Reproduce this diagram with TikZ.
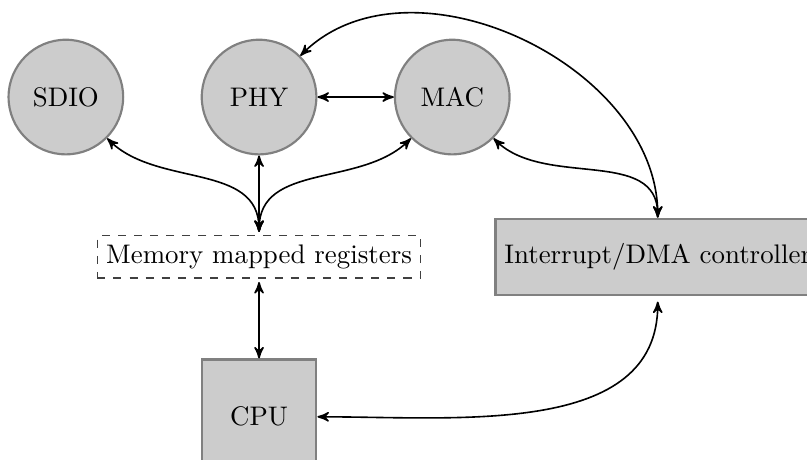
\documentclass[tikz,border=0pt]{standalone}
\usepackage{tikz}
\usetikzlibrary{arrows,shapes,positioning,fit}

\begin{document}
\begin{tikzpicture}[>=stealth', semithick,
block/.style = {align=center, text centered, draw=gray, thick, fill=gray!40},
unit/.style = {block, circle, minimum size=1.5cm},
ctrl/.style = {block, rectangle, minimum height=1cm},
regs/.style = {rectangle, draw=darkgray, thin, dashed, outer sep=1.5pt}]
\useasboundingbox (-3.39,-4.74) rectangle (7.17,1.27);

\node [unit] (phy) {PHY};
\node [unit, left=1cm of phy] (sdio) {SDIO};
\node [unit, right=1cm of phy] (mac) {MAC};
\node [regs, below=1cm of phy] (mem) {Memory mapped registers};
\node [ctrl, right=0.91cm of mem] (irq) {Interrupt/DMA controller};
\node [ctrl, minimum width=1.5cm, minimum height=1.5cm, below=1cm of mem] (cpu) {CPU};

\path [<->] (phy) edge (mac);
\path [<->] (mem) edge (phy);
\path [<->] (mem.north) edge [out=90, in=-45] (sdio.south east);
\path [<->] (mem.north) edge [out=90, in=225] (mac.south west);
\path [<->] (irq.north) edge [out=90, in=45] (phy.north east);
\path [<->] (irq.north) edge [out=90, in=-45] (mac.south east);
\path [<->] (cpu.east) edge [out=0, in=-90, shorten >=2pt] (irq.south);
\path [<->] (mem) edge (cpu);
\end{tikzpicture}
\end{document}
